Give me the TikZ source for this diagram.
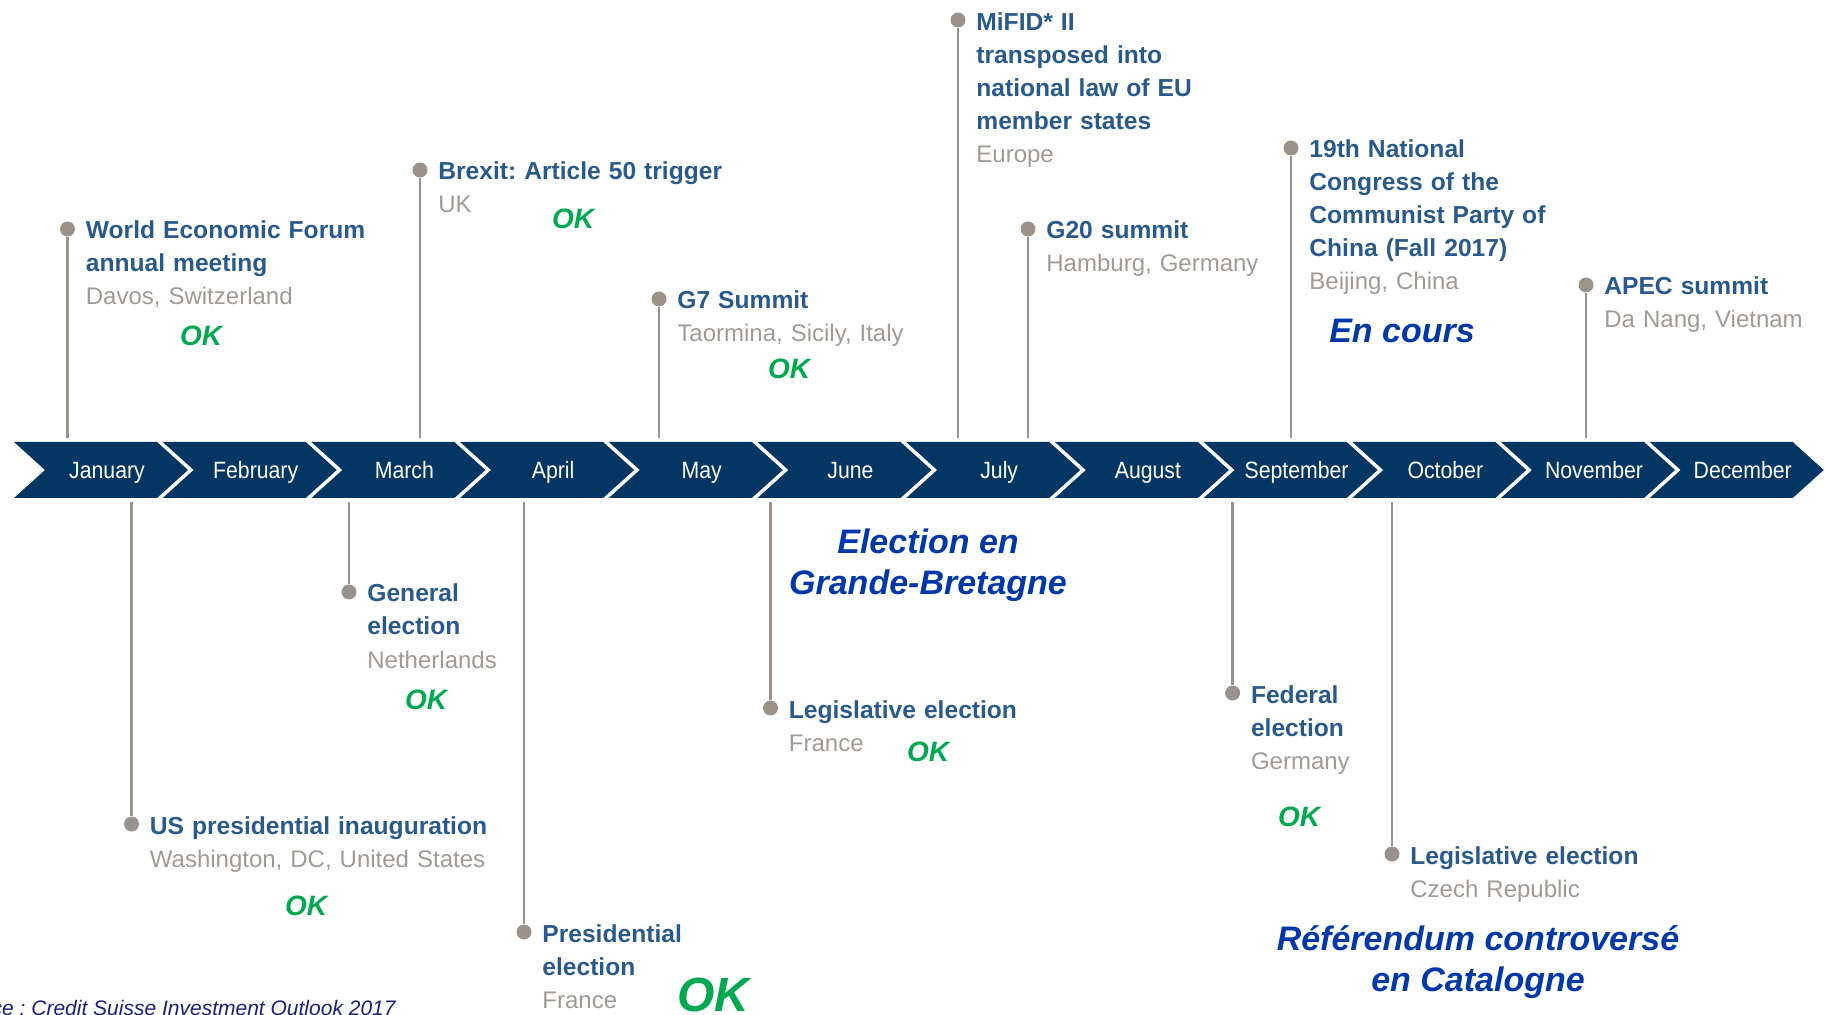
\documentclass[tikz,border=0pt]{standalone}
\usepackage{fontspec}
\setmainfont{Liberation Sans}
\newfontfamily\monthfont[FakeStretch=0.9]{Liberation Sans}
\usetikzlibrary{positioning,calc}
\frenchspacing
\definecolor{band}{RGB}{4,54,99}
\definecolor{headblue}{RGB}{42,90,140}
\definecolor{placegray}{RGB}{160,154,149}
\definecolor{stemgray}{RGB}{155,146,139}
\definecolor{okgreen}{RGB}{0,168,80}
\definecolor{remarkblue}{RGB}{0,56,170}
\definecolor{srcnavy}{RGB}{30,30,120}
\newcommand{\evhead}[1]{{\bfseries\fontsize{12.3}{16.5}\selectfont #1}}
\newcommand{\evplace}[1]{{\color{placegray}#1}}

\begin{document}
\begin{tikzpicture}[
  x=0.5pt, y=-0.5pt,
  month/.style={text=white, inner sep=0pt, minimum height=28pt, text height=10pt, text depth=1.5pt, font=\monthfont\fontsize{11.8}{14}\selectfont},
  evdot/.style={circle, fill=stemgray, inner sep=0pt, minimum size=7.5pt},
  stem/.style={draw=stemgray, line width=1.2pt, shorten >=2pt},
  event/.style={anchor=base west, align=left, text width=240pt, inner sep=0pt, text=headblue, font=\fontsize{12}{16.5}\selectfont},
  ok/.style={text=okgreen, inner sep=0pt, font=\bfseries\itshape\fontsize{14}{16}\selectfont},
  remark/.style={text=remarkblue, align=center, inner sep=0pt, font=\bfseries\itshape\fontsize{17}{20.5}\selectfont},
  source/.style={text=srcnavy, inner sep=0pt, font=\itshape\fontsize{10.5}{12}\selectfont}
]
\clip (0,0) rectangle (1825,1015);

% month band
\foreach \m/\n [count=\i from 0] in {January/jan,February/feb,March/mar,April/apr,May/may,June/jun,July/jul,August/aug,September/sep,October/oct,November/nov,December/dec}{
  \pgfmathsetmacro{\x}{14+148.7*\i}
  \fill[band] (\x,442) -- ++(143,0) -- ++(31,28) -- ++(-31,28) -- ++(-143,0) -- ++(31,-28) -- cycle;
  \node[month] (\n) at (\x+93,470) {\m};
}

% events above the band
\node[evdot] (wef) at (67.5,229) {};
\node[event] (weftxt) at ([shift={(18,10)}]wef.center) {\evhead{World Economic Forum\\annual meeting}\\\evplace{Davos, Switzerland}};
\draw[stem] (wef) -- (wef |- jan.north);
\node[ok] (wefok) at (201,336) {OK};

\node[evdot] (brexit) at (420,170) {};
\node[event] (brexittxt) at ([shift={(18,10)}]brexit.center) {\evhead{Brexit: Article 50 trigger}\\\evplace{UK}};
\draw[stem] (brexit) -- (brexit |- mar.north);
\node[ok] (brexitok) at (573,219) {OK};

\node[evdot] (gseven) at (659,299) {};
\node[event] (gseventxt) at ([shift={(18,10)}]gseven.center) {\evhead{G7 Summit}\\\evplace{Taormina, Sicily, Italy}};
\draw[stem] (gseven) -- (gseven |- may.north);
\node[ok] (gsevenok) at (789,369) {OK};

\node[evdot] (mifid) at (958,20) {};
\node[event] (mifidtxt) at ([shift={(18,11)}]mifid.center) {\evhead{MiFID* II\\transposed into\\national law of EU\\member states}\\\evplace{Europe}};
\draw[stem] (mifid) -- (mifid |- jul.north);

\node[evdot] (gtwenty) at (1028,229) {};
\node[event] (gtwentytxt) at ([shift={(18,10)}]gtwenty.center) {\evhead{G20 summit}\\\evplace{Hamburg, Germany}};
\draw[stem] (gtwenty) -- (gtwenty |- jul.north);

\node[evdot] (china) at (1291,148) {};
\node[event] (chinatxt) at ([shift={(18,10)}]china.center) {\evhead{19th National\\Congress of the\\Communist Party of\\China (Fall 2017)}\\\evplace{Beijing, China}};
\draw[stem] (china) -- (china |- sep.north);
\node[remark] (encours) at (1402,331) {En cours};

\node[evdot] (apec) at (1586,285) {};
\node[event] (apectxt) at ([shift={(18,10)}]apec.center) {\evhead{APEC summit}\\\evplace{Da Nang, Vietnam}};
\draw[stem] (apec) -- (apec |- nov.north);

% events below the band
\node[evdot] (usinaug) at (131.5,824) {};
\node[event] (usinaugtxt) at ([shift={(18,10)}]usinaug.center) {\evhead{US presidential inauguration}\\\evplace{Washington, DC, United States}};
\draw[stem] (usinaug) -- (usinaug |- jan.south);
\node[ok] (usinaugok) at (306,906) {OK};

\node[evdot] (nlvote) at (349,592) {};
\node[event] (nlvotetxt) at ([shift={(18,10)}]nlvote.center) {\evhead{General\\election}\\\evplace{Netherlands}};
\draw[stem] (nlvote) -- (nlvote |- mar.south);
\node[ok] (nlvoteok) at (426,700) {OK};

\node[evdot] (frpres) at (524,932) {};
\node[event] (frprestxt) at ([shift={(18,10)}]frpres.center) {\evhead{Presidential\\election}\\\evplace{France}};
\draw[stem] (frpres) -- (frpres |- apr.south);
\node[ok, font=\bfseries\itshape\fontsize{24}{28}\selectfont] (frpresok) at (713,995) {OK};

\node[evdot] (frleg) at (770.5,708) {};
\node[event] (frlegtxt) at ([shift={(18,10)}]frleg.center) {\evhead{Legislative election}\\\evplace{France}};
\draw[stem] (frleg) -- (frleg |- jun.south);
\node[ok] (frlegok) at (928,752) {OK};
\node[remark] (gbvote) at (928,565) {Election en\\Grande-Bretagne};

\node[evdot] (devote) at (1232.6,693) {};
\node[event] (devotetxt) at ([shift={(18,10)}]devote.center) {\evhead{Federal\\election}\\\evplace{Germany}};
\draw[stem] (devote) -- (devote |- sep.south);
\node[ok] (devoteok) at (1299,817) {OK};

\node[evdot] (czvote) at (1392,854) {};
\node[event] (czvotetxt) at ([shift={(18,10)}]czvote.center) {\evhead{Legislative election}\\\evplace{Czech Republic}};
\draw[stem] (czvote) -- (czvote |- oct.south);
\node[remark] (catvote) at (1478,962) {Référendum controversé\\en Catalogne};

\node[source, anchor=base east] (src) at (396,1015) {Source : Credit Suisse Investment Outlook 2017};

\end{tikzpicture}
\end{document}
